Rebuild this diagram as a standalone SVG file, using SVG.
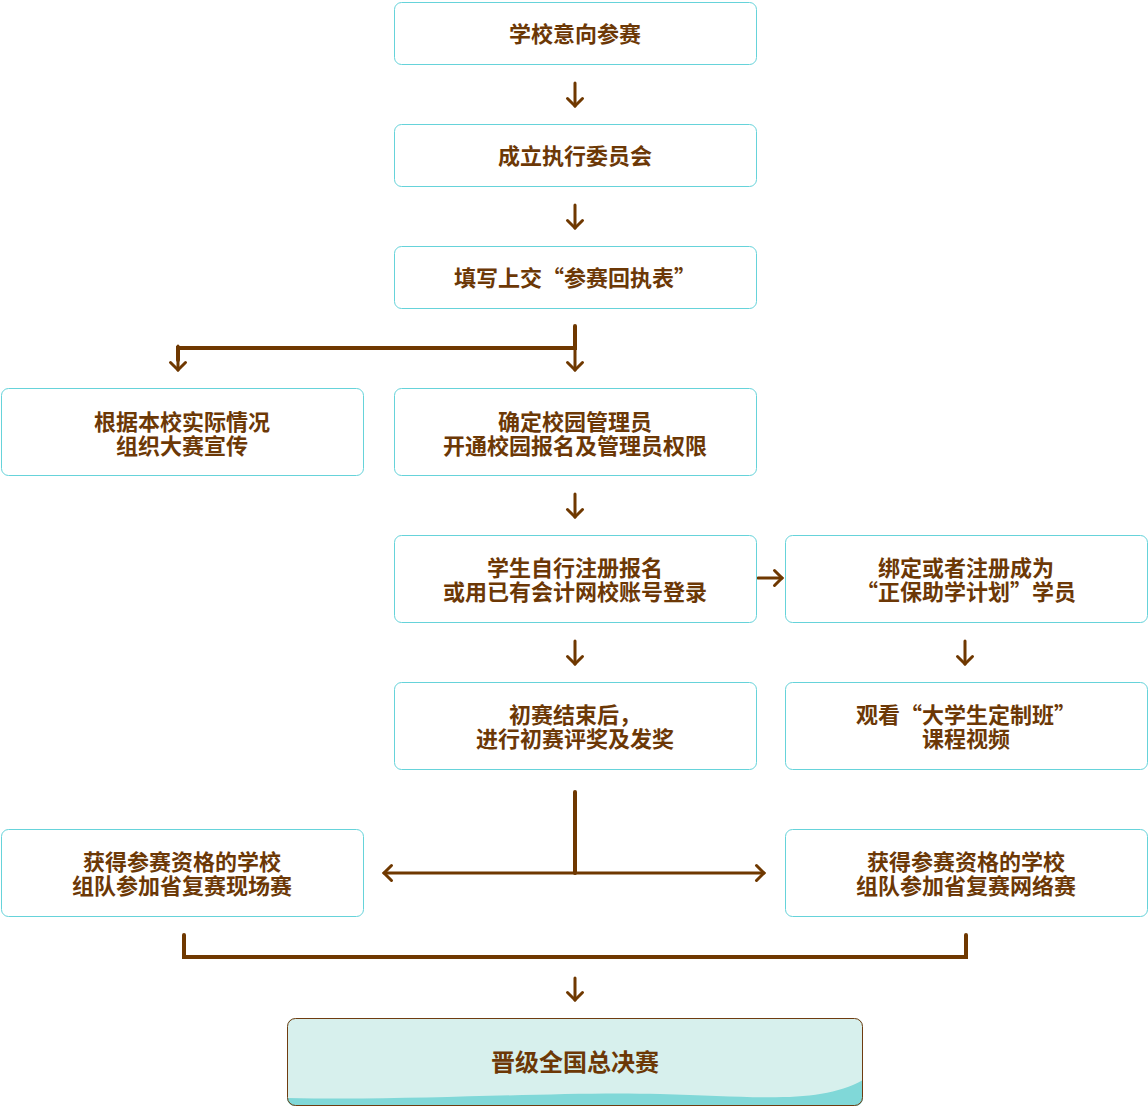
<svg xmlns="http://www.w3.org/2000/svg" width="1148" height="1107" viewBox="0 0 1148 1107">
<style>
.box{fill:#ffffff;stroke:#66d3da;stroke-width:1}
.t{font-family:"Noto Sans CJK SC","Noto Sans",sans-serif;font-weight:bold;font-size:22px;fill:#6c3806;text-anchor:middle;dominant-baseline:central}
.big{font-size:24px}
.ln{fill:none;stroke:#6f3800;stroke-width:4;stroke-linecap:round;stroke-linejoin:miter}
.ar{fill:none;stroke:#6f3800;stroke-width:3;stroke-linecap:round}
</style>
<defs>
<marker id="ah" viewBox="-2 -10 14 20" refX="9" refY="0" markerWidth="14" markerHeight="20" markerUnits="userSpaceOnUse" orient="auto">
<path d="M1.5,-7.5 L9,0 L1.5,7.5" fill="none" stroke="#6f3800" stroke-width="3" stroke-linecap="round" stroke-linejoin="miter"/>
</marker>
<clipPath id="fc"><rect x="287" y="1018" width="576" height="88" rx="8"/></clipPath>
</defs>
<g id="connectors">
<line class="ar" x1="575" y1="83" x2="575" y2="106" marker-end="url(#ah)"/>
<line class="ar" x1="575" y1="205" x2="575" y2="228" marker-end="url(#ah)"/>
<polyline class="ln" points="575,326 575,348 178,348 178,360"/>
<line class="ar" x1="575" y1="346" x2="575" y2="370" marker-end="url(#ah)"/>
<line class="ar" x1="178" y1="346" x2="178" y2="370" marker-end="url(#ah)"/>
<line class="ar" x1="575" y1="494" x2="575" y2="517" marker-end="url(#ah)"/>
<line class="ar" x1="758" y1="578" x2="782" y2="578" stroke-width="4" marker-end="url(#ah)"/>
<line class="ar" x1="575" y1="641" x2="575" y2="664" marker-end="url(#ah)"/>
<line class="ar" x1="965" y1="641" x2="965" y2="664" marker-end="url(#ah)"/>
<line class="ln" x1="575" y1="792" x2="575" y2="873"/>
<line class="ar" x1="575" y1="873" x2="384" y2="873" stroke-width="4" marker-end="url(#ah)"/>
<line class="ar" x1="575" y1="873" x2="764" y2="873" stroke-width="4" marker-end="url(#ah)"/>
<polyline class="ln" points="184,935 184,957 966,957 966,935"/>
<line class="ar" x1="575" y1="978" x2="575" y2="1000" marker-end="url(#ah)"/>
</g>
<g id="n1"><rect class="box" x="394.5" y="2.5" width="362" height="62" rx="7"/><text class="t" x="575" y="32">学校意向参赛</text></g>
<g id="n2"><rect class="box" x="394.5" y="124.5" width="362" height="62" rx="7"/><text class="t" x="575" y="154">成立执行委员会</text></g>
<g id="n3"><rect class="box" x="394.5" y="246.5" width="362" height="62" rx="7"/><text class="t" x="575" y="276">填写上交“参赛回执表”</text></g>
<g id="n4"><rect class="box" x="1.5" y="388.5" width="362" height="87" rx="7"/><text class="t" x="182" y="420">根据本校实际情况</text><text class="t" x="182" y="444">组织大赛宣传</text></g>
<g id="n5"><rect class="box" x="394.5" y="388.5" width="362" height="87" rx="7"/><text class="t" x="575" y="420">确定校园管理员</text><text class="t" x="575" y="444">开通校园报名及管理员权限</text></g>
<g id="n6"><rect class="box" x="394.5" y="535.5" width="362" height="87" rx="7"/><text class="t" x="575" y="566">学生自行注册报名</text><text class="t" x="575" y="590">或用已有会计网校账号登录</text></g>
<g id="n7"><rect class="box" x="785.5" y="535.5" width="362" height="87" rx="7"/><text class="t" x="966" y="566">绑定或者注册成为</text><text class="t" x="966" y="590">“正保助学计划”学员</text></g>
<g id="n8"><rect class="box" x="394.5" y="682.5" width="362" height="87" rx="7"/><text class="t" x="575" y="713">初赛结束后，</text><text class="t" x="575" y="737">进行初赛评奖及发奖</text></g>
<g id="n9"><rect class="box" x="785.5" y="682.5" width="362" height="87" rx="7"/><text class="t" x="966" y="713">观看“大学生定制班”</text><text class="t" x="966" y="737">课程视频</text></g>
<g id="n10"><rect class="box" x="1.5" y="829.5" width="362" height="87" rx="7"/><text class="t" x="182" y="860">获得参赛资格的学校</text><text class="t" x="182" y="884">组队参加省复赛现场赛</text></g>
<g id="n11"><rect class="box" x="785.5" y="829.5" width="362" height="87" rx="7"/><text class="t" x="966" y="860">获得参赛资格的学校</text><text class="t" x="966" y="884">组队参加省复赛网络赛</text></g>
<g id="n12">
<rect x="287" y="1018" width="576" height="88" rx="8" fill="#d7f0ed"/>
<path d="M287,1098 C420,1101 560,1091 660,1094 C760,1097 820,1104 863,1080 L863,1106 L287,1106 Z" fill="#80d8d8" clip-path="url(#fc)"/>
<rect x="287.5" y="1018.5" width="575" height="87" rx="8" fill="none" stroke="#6f3c10" stroke-width="1"/>
<text class="t big" x="575" y="1060">晋级全国总决赛</text>
</g>
</svg>
